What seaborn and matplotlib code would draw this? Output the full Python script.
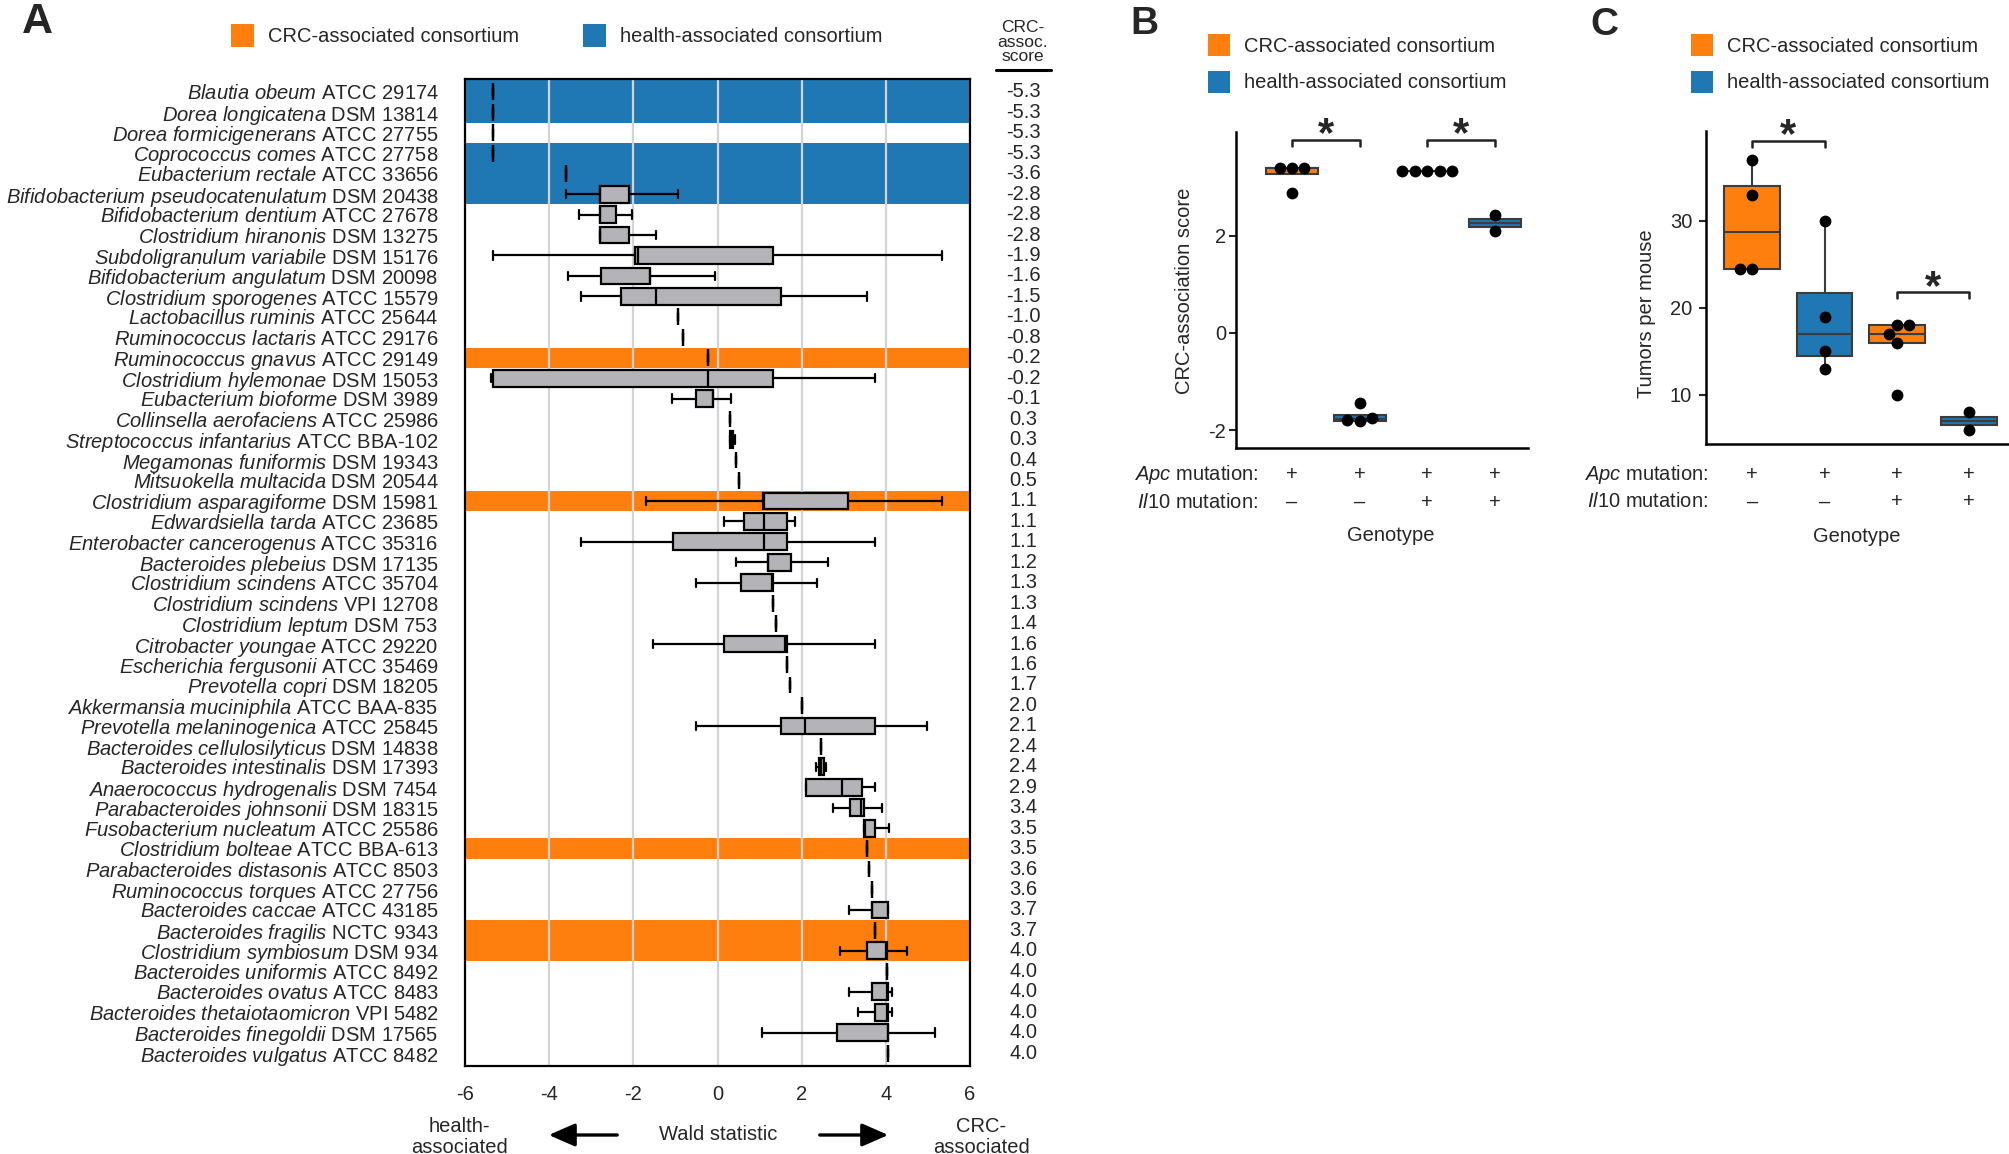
import numpy as np
import pandas as pd
import matplotlib
matplotlib.use('Agg')
import matplotlib.pyplot as plt
import seaborn as sns
from matplotlib.patches import Rectangle, FancyArrowPatch
from matplotlib.lines import Line2D
from matplotlib.transforms import blended_transform_factory as blend

# ---------------- panel A data ----------------
species = [
    'Blautia obeum', 'Dorea longicatena', 'Dorea formicigenerans', 'Coprococcus comes',
    'Eubacterium rectale', 'Bifidobacterium pseudocatenulatum', 'Bifidobacterium dentium',
    'Clostridium hiranonis', 'Subdoligranulum variabile', 'Bifidobacterium angulatum',
    'Clostridium sporogenes', 'Lactobacillus ruminis', 'Ruminococcus lactaris',
    'Ruminococcus gnavus', 'Clostridium hylemonae', 'Eubacterium bioforme',
    'Collinsella aerofaciens', 'Streptococcus infantarius', 'Megamonas funiformis',
    'Mitsuokella multacida', 'Clostridium asparagiforme', 'Edwardsiella tarda',
    'Enterobacter cancerogenus', 'Bacteroides plebeius', 'Clostridium scindens',
    'Clostridium scindens', 'Clostridium leptum', 'Citrobacter youngae',
    'Escherichia fergusonii', 'Prevotella copri', 'Akkermansia muciniphila',
    'Prevotella melaninogenica', 'Bacteroides cellulosilyticus', 'Bacteroides intestinalis',
    'Anaerococcus hydrogenalis', 'Parabacteroides johnsonii', 'Fusobacterium nucleatum',
    'Clostridium bolteae', 'Parabacteroides distasonis', 'Ruminococcus torques',
    'Bacteroides caccae', 'Bacteroides fragilis', 'Clostridium symbiosum',
    'Bacteroides uniformis', 'Bacteroides ovatus', 'Bacteroides thetaiotaomicron',
    'Bacteroides finegoldii', 'Bacteroides vulgatus',
]
strains = [
    'ATCC 29174', 'DSM 13814', 'ATCC 27755', 'ATCC 27758', 'ATCC 33656', 'DSM 20438',
    'ATCC 27678', 'DSM 13275', 'DSM 15176', 'DSM 20098', 'ATCC 15579', 'ATCC 25644',
    'ATCC 29176', 'ATCC 29149', 'DSM 15053', 'DSM 3989', 'ATCC 25986', 'ATCC BBA-102',
    'DSM 19343', 'DSM 20544', 'DSM 15981', 'ATCC 23685', 'ATCC 35316', 'DSM 17135',
    'ATCC 35704', 'VPI 12708', 'DSM 753', 'ATCC 29220', 'ATCC 35469', 'DSM 18205',
    'ATCC BAA-835', 'ATCC 25845', 'DSM 14838', 'DSM 17393', 'DSM 7454', 'DSM 18315',
    'ATCC 25586', 'ATCC BBA-613', 'ATCC 8503', 'ATCC 27756', 'ATCC 43185', 'NCTC 9343',
    'DSM 934', 'ATCC 8492', 'ATCC 8483', 'VPI 5482', 'DSM 17565', 'ATCC 8482',
]
crc_score = [-5.3, -5.3, -5.3, -5.3, -3.6, -2.8, -2.8, -2.8, -1.9, -1.6, -1.5, -1.0,
             -0.8, -0.2, -0.2, -0.1, 0.3, 0.3, 0.4, 0.5, 1.1, 1.1, 1.1, 1.2,
             1.3, 1.3, 1.4, 1.6, 1.6, 1.7, 2.0, 2.1, 2.4, 2.4, 2.9, 3.4,
             3.5, 3.5, 3.6, 3.6, 3.7, 3.7, 4.0, 4.0, 4.0, 4.0, 4.0, 4.0]

# Wald statistic summaries (min, lower quartile, median, upper quartile, max)
wald_lo = [-5.33, -5.33, -5.33, -5.33, -3.61, -3.61, -3.29, -2.8, -5.33, -3.56, -3.24, -0.94,
           -0.83, -0.22, -5.39, -1.07, 0.29, 0.29, 0.45, 0.52, -1.7, 0.16, -3.24, 0.45,
           -0.51, 1.32, 1.40, -1.54, 1.65, 1.73, 2.0, -0.51, 2.46, 2.35, 2.11, 2.75,
           3.48, 3.56, 3.59, 3.66, 3.12, 3.74, 2.91, 4.02, 3.12, 3.35, 1.05, 4.05]
wald_q1 = [-5.33, -5.33, -5.33, -5.33, -3.61, -2.8, -2.8, -2.8, -1.97, -2.77, -2.29, -0.94,
           -0.83, -0.22, -5.33, -0.51, 0.29, 0.30, 0.45, 0.52, 1.08, 0.64, -1.05, 1.19,
           0.57, 1.32, 1.40, 0.16, 1.65, 1.73, 2.0, 1.51, 2.46, 2.42, 2.11, 3.15,
           3.48, 3.56, 3.59, 3.66, 3.67, 3.74, 3.55, 4.02, 3.67, 3.75, 2.83, 4.05]
wald_median = [-5.33, -5.33, -5.33, -5.33, -3.61, -2.8, -2.8, -2.8, -1.9, -1.6, -1.45, -0.94,
               -0.83, -0.22, -0.22, -0.1, 0.29, 0.32, 0.45, 0.52, 1.1, 1.11, 1.11, 1.2,
               1.3, 1.32, 1.40, 1.6, 1.65, 1.73, 2.0, 2.07, 2.46, 2.46, 2.96, 3.4,
               3.5, 3.56, 3.59, 3.66, 3.67, 3.74, 4.0, 4.02, 4.02, 4.02, 4.05, 4.05]
wald_q3 = [-5.33, -5.33, -5.33, -5.33, -3.61, -2.1, -2.42, -2.1, 1.32, -1.6, 1.51, -0.94,
           -0.83, -0.22, 1.32, -0.1, 0.29, 0.38, 0.45, 0.52, 3.1, 1.64, 1.64, 1.75,
           1.32, 1.32, 1.40, 1.64, 1.65, 1.73, 2.0, 3.74, 2.46, 2.54, 3.43, 3.47,
           3.75, 3.56, 3.59, 3.66, 4.05, 3.74, 4.02, 4.02, 4.05, 4.05, 4.05, 4.05]
wald_hi = [-5.33, -5.33, -5.33, -5.33, -3.61, -0.95, -2.02, -1.46, 5.33, -0.06, 3.56, -0.94,
           -0.83, -0.22, 3.74, 0.33, 0.29, 0.41, 0.45, 0.52, 5.33, 1.83, 3.74, 2.62,
           2.37, 1.32, 1.40, 3.74, 1.65, 1.73, 2.0, 4.98, 2.46, 2.59, 3.74, 3.9,
           4.07, 3.56, 3.59, 3.66, 4.05, 3.74, 4.5, 4.02, 4.15, 4.15, 5.17, 4.05]

crc_consortium = ['Ruminococcus gnavus', 'Clostridium asparagiforme', 'Clostridium bolteae',
                  'Bacteroides fragilis', 'Clostridium symbiosum']
health_consortium = ['Blautia obeum', 'Dorea longicatena', 'Coprococcus comes',
                     'Eubacterium rectale', 'Bifidobacterium pseudocatenulatum']

# ---------------- panels B and C data ----------------
groups = ['CRC / Il10-', 'health / Il10-', 'CRC / Il10+', 'health / Il10+']
group_consortium = ['CRC', 'health', 'CRC', 'health']
apc_mutation = ['+', '+', '+', '+']
il10_mutation = ['\u2013', '\u2013', '+', '+']

score_values = [
    [3.4, 3.4, 3.4, 2.88],
    [-1.44, -1.76, -1.8, -1.82],
    [3.33, 3.33, 3.33, 3.33, 3.33],
    [2.44, 2.10],
]
tumor_values = [
    [37, 33, 24.5, 24.5],
    [30, 19, 15, 13],
    [18, 18, 17, 16, 10],
    [8, 6],
]

ORANGE = '#ff7f0e'
BLUE = '#1f77b4'
BOXGRAY = '#b4b4b8'
palette = {'CRC': ORANGE, 'health': BLUE}

sns.set_style('white')
plt.rcParams['font.family'] = ['Liberation Sans', 'DejaVu Sans']
plt.rcParams['mathtext.fontset'] = 'custom'
plt.rcParams['mathtext.rm'] = 'Liberation Sans'
plt.rcParams['mathtext.it'] = 'Liberation Sans:italic'
plt.rcParams['mathtext.bf'] = 'Liberation Sans:bold'
plt.rcParams['axes.unicode_minus'] = False

W, H = 2009, 1154
FS = 14.5


def fx(px):
    return px / W


def fy(py):
    return 1 - py / H


fig = plt.figure(figsize=(W / 100, H / 100), dpi=100)

# ================= panel A =================
axA = fig.add_axes([fx(465), fy(1066), 505 / W, 987 / H])

keys = [f'{s} {t}' for s, t in zip(species, strains)]
rows = []
for k, a, b, c, d, e in zip(keys, wald_lo, wald_q1, wald_median, wald_q3, wald_hi):
    for v in (a, b, c, d, e):
        rows.append({'strain': k, 'wald': v})
dfA = pd.DataFrame(rows)

for i, sp in enumerate(species):
    col = ORANGE if sp in crc_consortium else BLUE if sp in health_consortium else None
    if col:
        axA.axhspan(i - 0.5 if i > 0 else -1, i + 0.5, color=col, lw=0, zorder=0.1)

sns.boxplot(data=dfA, x='wald', y='strain', order=keys, orient='h', whis=(0, 100),
            width=0.82, color=BOXGRAY, linecolor='black', linewidth=1.6,
            saturation=1, showfliers=False, ax=axA)

axA.set_xlim(-6, 6)
axA.set_ylim(len(keys) - 0.37, -0.63)
axA.set_xticks([-6, -4, -2, 0, 2, 4, 6])
axA.set_axisbelow(True)
axA.grid(axis='x', color='#d3d3d3', lw=1.6, zorder=0.5)
axA.grid(axis='y', visible=False)
axA.set_xlabel('')
axA.set_ylabel('')
axA.set_yticks(range(len(keys)))
axA.set_yticklabels([r'$\mathit{' + s.replace(' ', r'\ ') + '}$ ' + t
                     for s, t in zip(species, strains)])
axA.tick_params(axis='y', length=0, pad=19, labelsize=FS)
axA.tick_params(axis='x', length=0, pad=14, labelsize=FS)
for sp in axA.spines.values():
    sp.set_color('black')
    sp.set_linewidth(1.6)

tr = blend(axA.transAxes, axA.transData)
for i, v in enumerate(crc_score):
    axA.text(1.105, i, f'{v:.1f}', transform=tr, ha='center', va='center', fontsize=FS)
fig.text(fx(1023), fy(64), 'CRC-\nassoc.\nscore', ha='center', va='bottom',
         fontsize=12.5, linespacing=0.95)
fig.add_artist(Line2D([fx(996), fx(1051)], [fy(70), fy(70)], color='black', lw=2.2))

# legend A
for x0, col, lab in [(231, ORANGE, 'CRC-associated consortium'),
                     (583, BLUE, 'health-associated consortium')]:
    fig.add_artist(Rectangle((fx(x0), fy(47)), 23 / W, 23 / H, transform=fig.transFigure,
                             color=col, lw=0))
    fig.text(fx(x0 + 37), fy(36), lab, ha='left', va='center', fontsize=FS)

# axis annotation
fig.text(fx(459), fy(1137), 'health-\nassociated', ha='center', va='center',
         fontsize=FS, linespacing=1.15)
fig.text(fx(981), fy(1137), 'CRC-\nassociated', ha='center', va='center',
         fontsize=FS, linespacing=1.15)
fig.text(fx(718), fy(1135), 'Wald statistic', ha='center', va='center', fontsize=FS)
for a, b in [((620, 1135), (546, 1135)), ((817, 1135), (891, 1135))]:
    fig.add_artist(FancyArrowPatch((fx(a[0]), fy(a[1])), (fx(b[0]), fy(b[1])),
                                   transform=fig.transFigure,
                                   arrowstyle='-|>,head_length=0.8,head_width=0.35',
                                   mutation_scale=20, lw=2.4, color='black'))

fig.text(fx(22), fy(33), 'A', fontsize=31, weight='bold', va='baseline')


# ================= panels B and C =================
def genotype_panel(box, values, ylim, yticks, ylabel, ylab_pos, row_x, row_y, geno_pos,
                   brackets, ypad):
    ax = fig.add_axes(box)
    recs = []
    for g, c, vals in zip(groups, group_consortium, values):
        for v in vals:
            recs.append({'group': g, 'consortium': c, 'value': v})
    df = pd.DataFrame(recs)
    sns.boxplot(data=df, x='group', y='value', hue='consortium', order=groups,
                palette=palette, dodge=False, width=0.77, showfliers=False,
                linecolor='#3c3c3c', linewidth=1.5, saturation=1, legend=False,
                capprops={'visible': False}, ax=ax)
    sns.swarmplot(data=df, x='group', y='value', order=groups, color='black',
                  size=8.5, ax=ax)
    ax.set_ylim(*ylim)
    ax.set_yticks(yticks)
    ax.set_xlabel('')
    ax.set_ylabel('')
    ax.set_xticklabels([])
    ax.tick_params(axis='x', length=0)
    ax.tick_params(axis='y', length=5, width=1.5, direction='out', pad=ypad,
                   labelsize=FS, left=True)
    sns.despine(ax=ax)
    for s in ('left', 'bottom'):
        ax.spines[s].set_color('black')
        ax.spines[s].set_linewidth(1.8)

    trx = blend(ax.transData, ax.transAxes)
    for i in range(len(groups)):
        ax.text(i, row_y[0], apc_mutation[i], transform=trx, ha='center', va='center',
                fontsize=FS)
        ax.text(i, row_y[1], il10_mutation[i], transform=trx, ha='center', va='center',
                fontsize=FS)
    ax.text(row_x, row_y[0], r'$\mathit{Apc}$ mutation:', transform=ax.transAxes,
            ha='right', va='center', fontsize=FS)
    ax.text(row_x, row_y[1], r'$\mathit{Il10}$ mutation:', transform=ax.transAxes,
            ha='right', va='center', fontsize=FS)
    ax.text(geno_pos[0], geno_pos[1], 'Genotype', transform=ax.transAxes,
            ha='center', va='center', fontsize=FS)
    ax.text(ylab_pos[0], ylab_pos[1], ylabel, transform=ax.transAxes, rotation=90,
            ha='center', va='center', fontsize=FS)

    for x0, x1, ytop, ydrop, ystar in brackets:
        ax.plot([x0, x0, x1, x1], [ydrop, ytop, ytop, ydrop], color='#222222', lw=1.8,
                clip_on=False)
        ax.text((x0 + x1) / 2, ystar, '*', ha='center', va='baseline', fontsize=30,
                weight='bold', clip_on=False)
    return ax


axB = genotype_panel([fx(1236), fy(448), 292 / W, 316 / H], score_values,
                     (-2.37, 4.14), [-2, 0, 2], 'CRC-association score',
                     (-0.178, 0.497), 0.075, (-0.085, -0.171), (0.53, -0.278),
                     [(0, 1, 3.98, 3.86, 3.86), (2, 3, 3.98, 3.86, 3.86)], 2)
axB.set_xlim(-0.83, 3.49)

axC = genotype_panel([fx(1706), fy(444), 303 / W, 313 / H], tumor_values,
                     (4.36, 40.3), [10, 20, 30], 'Tumors per mouse',
                     (-0.195, 0.415), 0.007, (-0.099, -0.185), (0.498, -0.294),
                     [(0, 1, 39.2, 38.5, 38.4), (2, 3, 21.8, 21.1, 21.0)], 5)
axC.set_xlim(-0.64, 3.55)

for x0, lx in [(1208, 'B'), (1691, 'C')]:
    for ytop, col, lab in [(34, ORANGE, 'CRC-associated consortium'),
                           (71, BLUE, 'health-associated consortium')]:
        fig.add_artist(Rectangle((fx(x0), fy(ytop + 22)), 22 / W, 22 / H,
                                 transform=fig.transFigure, color=col, lw=0))
        fig.text(fx(x0 + 36), fy(ytop + 12), lab, ha='left', va='center', fontsize=FS)

fig.text(fx(1130), fy(34), 'B', fontsize=28, weight='bold', va='baseline')
fig.text(fx(1590), fy(35), 'C', fontsize=28, weight='bold', va='baseline')

fig.savefig('out.png', dpi=100)
